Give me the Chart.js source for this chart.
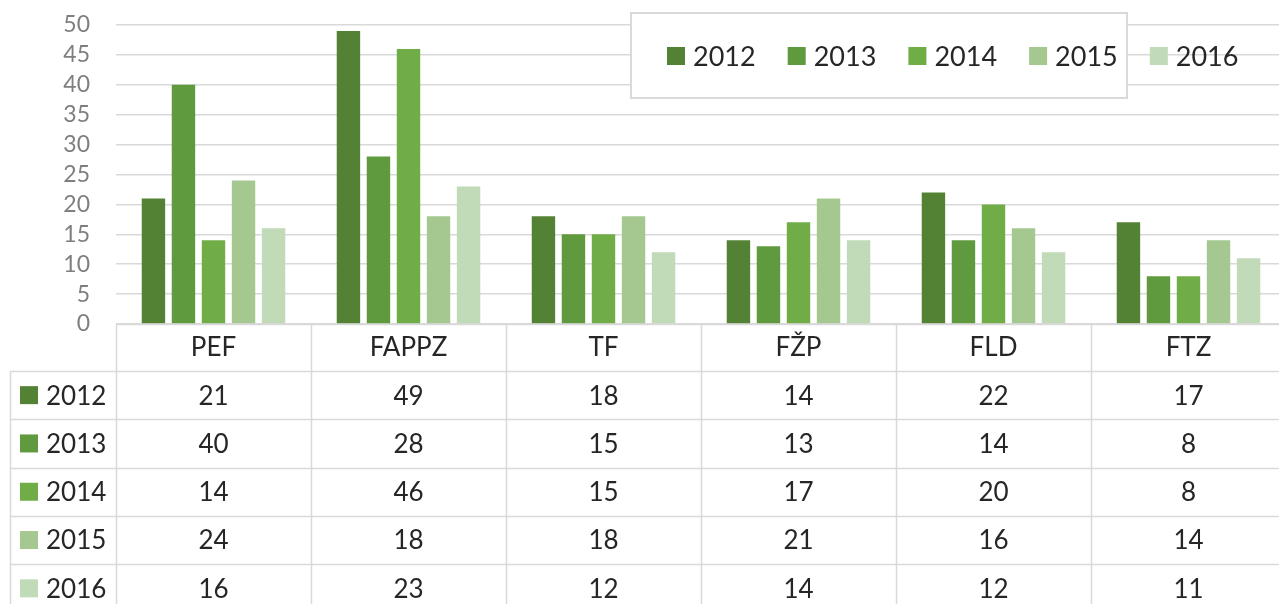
<!DOCTYPE html>
<html>
<head>
<meta charset="utf-8">
<script src="https://cdn.jsdelivr.net/npm/chart.js@4"></script>
<style>
  html, body { margin: 0; padding: 0; background: #fff; overflow: hidden; }
  #wrap { width: 1290px; height: 604px; }
</style>
</head>
<body>
<div id="wrap"><canvas id="barChart" width="1290" height="604"></canvas></div>
<script>
var categories = ["PEF", "FAPPZ", "TF", "FŽP", "FLD", "FTZ"];
var years = ["2012", "2013", "2014", "2015", "2016"];

var v2012 = [21, 49, 18, 14, 22, 17];
var v2013 = [40, 28, 15, 13, 14, 8];
var v2014 = [14, 46, 15, 17, 20, 8];
var v2015 = [24, 18, 18, 21, 16, 14];
var v2016 = [16, 23, 12, 14, 12, 11];

var yTicks = [0, 5, 10, 15, 20, 25, 30, 35, 40, 45, 50];

var seriesValues = [v2012, v2013, v2014, v2015, v2016];
var barColors = ["#548235", "#609a3f", "#70ad47", "#a5c790", "#c1dab7"];

var FONT = "Lato, 'Open Sans', sans-serif";
var TEXT = "#262626";
var LINE = "#d9d9d9";

// legend box inside the plot + data table under it
var tablePlugin = {
  id: "dataTable",
  afterDraw: function (chart) {
    var ctx = chart.ctx;
    var area = chart.chartArea;
    var x = chart.scales.x;
    var n = categories.length;
    var colW = (area.right - area.left) / n;
    var top = area.bottom;
    var headH = 47;
    var rowH = 48.3;
    var leftEdge = 10.5;
    var bottom = chart.height + 10;

    ctx.save();
    ctx.strokeStyle = LINE;
    ctx.lineWidth = 1.5;

    // horizontal lines
    ctx.beginPath();
    ctx.moveTo(area.left, top + 0.5);
    ctx.lineTo(chart.width, top + 0.5);
    for (var r = 0; r < years.length; r++) {
      var yy = Math.round(top + headH + r * rowH) + 0.5;
      ctx.moveTo(leftEdge, yy);
      ctx.lineTo(chart.width, yy);
    }
    // vertical lines
    for (var c = 0; c <= n; c++) {
      var xx = Math.round(area.left + c * colW) + 0.5;
      ctx.moveTo(xx, top);
      ctx.lineTo(xx, bottom);
    }
    ctx.moveTo(leftEdge, top + headH);
    ctx.lineTo(leftEdge, bottom);
    ctx.stroke();

    ctx.fillStyle = TEXT;
    ctx.font = "26px " + FONT;
    ctx.textAlign = "center";
    ctx.textBaseline = "middle";
    categories.forEach(function (cat, i) {
      ctx.fillText(cat, x.getPixelForValue(i), top + headH / 2);
    });

    years.forEach(function (yr, r) {
      var cy = top + headH + r * rowH + rowH / 2;
      ctx.fillStyle = barColors[r];
      ctx.fillRect(20, cy - 9, 18, 18);
      ctx.fillStyle = TEXT;
      ctx.textAlign = "left";
      ctx.fillText(yr, 46, cy + 1);
      ctx.textAlign = "center";
      seriesValues[r].forEach(function (v, i) {
        ctx.fillText(String(v), x.getPixelForValue(i), cy + 1);
      });
    });

    // legend
    var lx = 631, ly = 13, lw = 496, lh = 85;
    ctx.fillStyle = "#ffffff";
    ctx.fillRect(lx, ly, lw, lh);
    ctx.strokeStyle = LINE;
    ctx.lineWidth = 2;
    ctx.strokeRect(lx, ly, lw, lh);
    ctx.textAlign = "left";
    ctx.font = "27px " + FONT;
    years.forEach(function (yr, r) {
      var ix = 667 + r * 120.7;
      var cy = 56;
      ctx.fillStyle = barColors[r];
      ctx.fillRect(ix, cy - 9, 18, 18);
      ctx.fillStyle = TEXT;
      ctx.fillText(yr, ix + 26, cy + 1);
    });
    ctx.restore();
  }
};

var ctx = document.getElementById("barChart").getContext("2d");

new Chart(ctx, {
  type: "bar",
  data: {
    labels: categories,
    datasets: years.map(function (yr, i) {
      return {
        label: yr,
        data: seriesValues[i],
        backgroundColor: barColors[i],
        borderWidth: 0,
        barPercentage: 0.78,
        categoryPercentage: 0.77
      };
    })
  },
  options: {
    responsive: false,
    animation: false,
    layout: { padding: { top: 25, right: 4, bottom: 280, left: 0 } },
    plugins: {
      legend: { display: false },
      tooltip: { enabled: false }
    },
    scales: {
      x: {
        display: false
      },
      y: {
        min: 0,
        max: 50,
        afterFit: function (s) {
          s.width = 116;
          s.paddingTop = 0;
          s.paddingBottom = 0;
        },
        afterBuildTicks: function (s) {
          s.ticks = yTicks.map(function (v) { return { value: v }; });
        },
        border: { display: false },
        grid: { color: LINE, lineWidth: 1.5, drawTicks: false },
        ticks: {
          color: "#7f7f7f",
          padding: 26,
          autoSkip: false,
          font: { family: FONT, size: 23 }
        }
      }
    }
  },
  plugins: [tablePlugin]
});
</script>
</body>
</html>
